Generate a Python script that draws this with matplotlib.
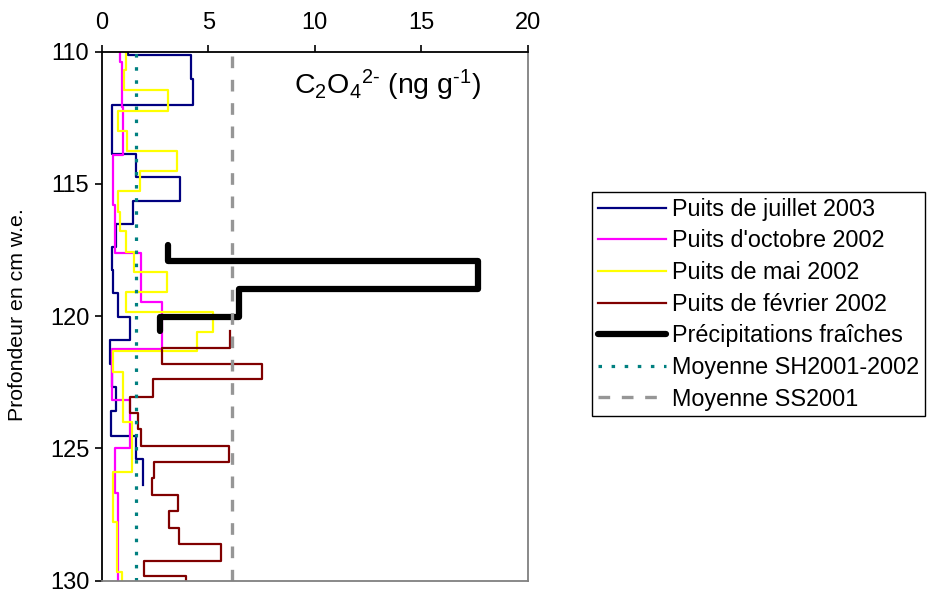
import numpy as np
import matplotlib
matplotlib.use("Agg")
import matplotlib.pyplot as plt

plt.rcParams['font.family'] = ['Liberation Sans', 'DejaVu Sans']
plt.rcParams['mathtext.fontset'] = 'custom'
plt.rcParams['mathtext.rm'] = 'Liberation Sans'
plt.rcParams['mathtext.it'] = 'Liberation Sans:italic'

# ---- data (depth edges in cm w.e., concentration in ng/g) ----
juil2003_edges = [110.0, 110.12, 111.04, 112.02, 113.87, 114.75, 115.64, 116.51, 117.37,
                  118.25, 119.13, 120.02, 120.9, 121.82, 122.67, 123.58, 124.52, 125.4, 126.38]
juil2003_vals = [1.22, 4.17, 4.27, 0.47, 1.61, 3.67, 1.45, 0.67, 0.47, 0.55, 0.75, 1.33,
                 0.39, 0.47, 0.67, 0.44, 1.59, 1.92]

oct2002_edges = [110.0, 110.38, 112.08, 113.9, 115.8, 117.62, 119.47, 121.25, 123.17,
                 124.97, 126.7, 130.0]
oct2002_vals = [0.86, 0.94, 0.98, 0.55, 0.62, 1.84, 2.81, 0.5, 1.33, 0.62, 0.78]

mai2002_edges = [110.0, 110.69, 111.45, 112.24, 113.0, 113.74, 114.51, 115.27, 116.05,
                 116.78, 117.56, 118.32, 119.07, 119.83, 120.59, 121.32, 122.1, 124.01,
                 125.9, 127.79, 129.68, 130.0]
mai2002_vals = [1.16, 1.05, 3.12, 0.75, 1.17, 3.52, 1.8, 0.78, 0.87, 1.12, 1.53, 3.08,
                1.12, 5.23, 4.45, 0.55, 0.98, 1.44, 0.51, 0.7, 0.94]

fev2002_edges = [120.56, 121.19, 121.82, 122.39, 123.04, 123.67, 124.28, 124.91, 125.52,
                 126.13, 126.76, 127.36, 128.0, 128.62, 129.24, 129.82, 130.0]
fev2002_vals = [6.02, 2.84, 7.51, 2.39, 1.33, 1.69, 1.84, 5.98, 2.47, 2.37, 3.56, 3.16,
                3.62, 5.59, 2.0, 3.94]

precip_edges = [117.31, 117.9, 118.98, 120.02, 120.56]
precip_vals = [3.12, 17.66, 6.45, 2.75]

moy_sh = 1.62
moy_ss = 6.12

labels = ["Puits de juillet 2003", "Puits d'octobre 2002", "Puits de mai 2002",
          "Puits de février 2002", "Précipitations fraîches",
          "Moyenne SH2001-2002", "Moyenne SS2001"]

x_ticks = [0, 5, 10, 15, 20]
y_ticks = [110, 115, 120, 125, 130]


def step_xy(edges, vals):
    e = np.asarray(edges, float)
    v = np.asarray(vals, float)
    y = np.repeat(e, 2)[1:-1]
    x = np.repeat(v, 2)
    return x, y


fig = plt.figure(figsize=(9.27, 5.9), dpi=100)
ax = fig.add_axes([101.7 / 927, 1 - 580.7 / 590, (528 - 101.7) / 927, (580.7 - 51.7) / 590])

series = [
    (juil2003_edges, juil2003_vals, dict(color='#000080', lw=1.6)),
    (oct2002_edges, oct2002_vals, dict(color='#FF00FF', lw=1.6)),
    (mai2002_edges, mai2002_vals, dict(color='#FFFF00', lw=1.6)),
    (fev2002_edges, fev2002_vals, dict(color='#800000', lw=1.6)),
    (precip_edges, precip_vals, dict(color='black', lw=4.5, solid_capstyle='round',
                                       solid_joinstyle='round')),
]
for (e, v, st), lab in zip(series, labels):
    x, y = step_xy(e, v)
    ax.plot(x, y, label=lab, **st)

ax.axvline(moy_sh, color='#008080', lw=2.3, linestyle=(0, (1.1, 3.0)), label=labels[5])
ax.axvline(moy_ss, color='#969696', lw=2.4, linestyle=(0, (3.5, 3.5)), label=labels[6])

ax.set_xlim(0, 20)
ax.set_ylim(130, 110)
ax.xaxis.tick_top()
ax.set_xticks(x_ticks)
ax.set_yticks(y_ticks)
ax.tick_params(axis='both', direction='out', length=5, width=1.2, labelsize=17, color='black')
ax.tick_params(axis='x', pad=8)
ax.tick_params(axis='y', pad=4)
for s in ['left', 'top']:
    ax.spines[s].set_color('black')
    ax.spines[s].set_linewidth(1.3)
for s in ['right', 'bottom']:
    ax.spines[s].set_color('#808080')
    ax.spines[s].set_linewidth(1.3)

fig.text(18 / 927, 1 - 315 / 590, "Profondeur en cm w.e.", rotation=90,
         ha='center', va='center', fontsize=15.3)
title = "C$_2$O$_4$$^{2\u2010}$ (ng g$^{\u20101}$)"
fig.text(388 / 927, 1 - 85 / 590, title, ha='center', va='center', fontsize=20.5)

leg = fig.legend(loc='upper left', bbox_to_anchor=(592 / 927, 1 - 192 / 590),
                 frameon=True, fancybox=False, framealpha=1, edgecolor='black',
                 fontsize=16.8, handlelength=2.9, handletextpad=0.28, labelspacing=0.37,
                 borderpad=0.25, borderaxespad=0)
leg.get_frame().set_linewidth(1.0)

fig.savefig("out.png", dpi=100)
